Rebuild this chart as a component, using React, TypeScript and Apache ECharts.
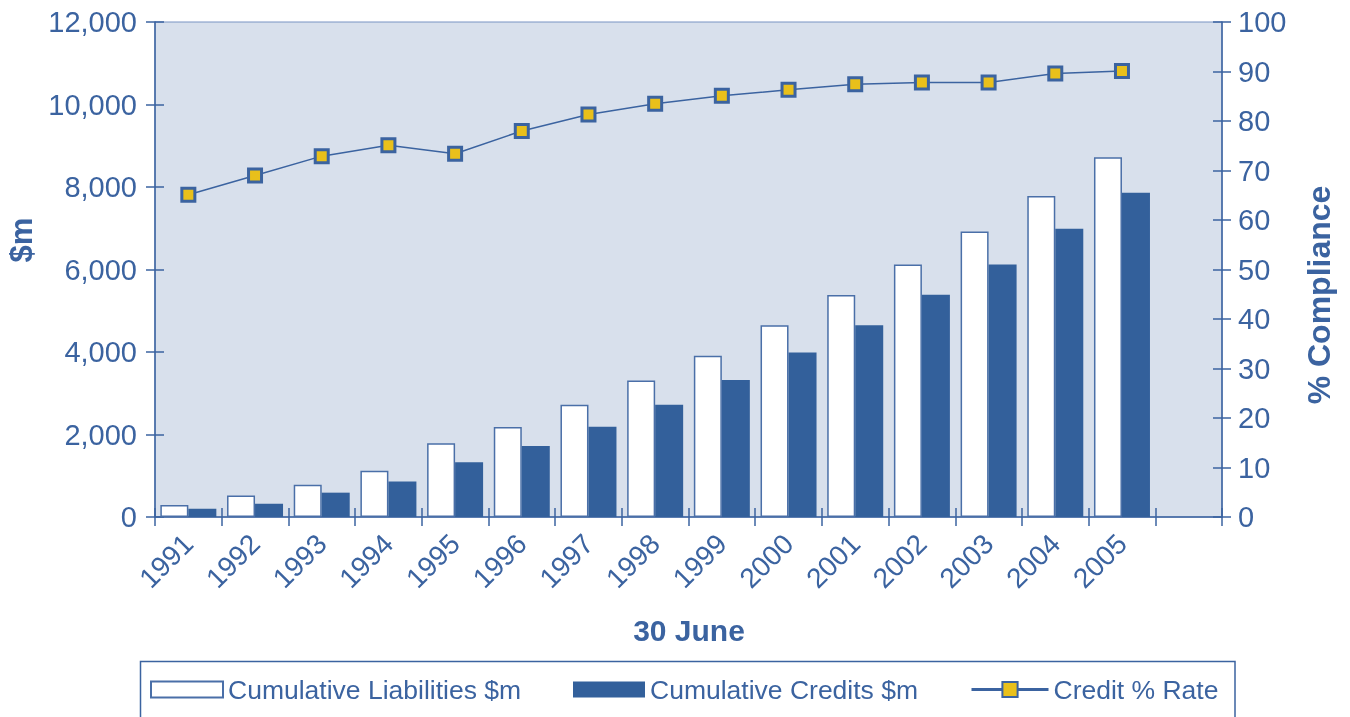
import React, { useEffect, useRef } from "react";
import * as echarts from "echarts";

// Year ending 30 June; one spare slot is left empty after the last year
const years = ["1991", "1992", "1993", "1994", "1995", "1996", "1997", "1998", "1999", "2000", "2001", "2002", "2003", "2004", "2005"];
const liabilities = [290, 520, 780, 1120, 1790, 2180, 2720, 3310, 3910, 4650, 5380, 6120, 6920, 7780, 8720];
const credits = [200, 320, 590, 860, 1330, 1720, 2190, 2720, 3320, 3990, 4650, 5390, 6120, 6990, 7860];
const creditRate = [65.1, 69.0, 72.9, 75.1, 73.4, 78.0, 81.3, 83.5, 85.1, 86.3, 87.4, 87.8, 87.8, 89.6, 90.1];

const seriesNames = ["Cumulative Liabilities $m", "Cumulative Credits $m", "Credit % Rate"];

const BLUE = "#3b63a0";
const DARK_BAR = "#33609b";
const YELLOW = "#e9c01b";
const PLOT_BG = "#d8e0ec";
const FONT = "Liberation Sans";

export default function App() {
  const ref = useRef<HTMLDivElement>(null);

  useEffect(() => {
    if (!ref.current) return;
    const chart = echarts.init(ref.current, undefined, { renderer: "svg" });
    const categories = [...years, ""];

    const tickStyle = { color: BLUE, width: 1.5 };

    const valueAxisBase = {
      type: "value" as const,
      splitLine: { show: false },
      axisLine: { show: true, lineStyle: { color: BLUE, width: 1.5 } },
    };

    const legendBase = {
      top: 676,
      padding: 0,
      itemHeight: 16,
      itemWidth: 72,
      selectedMode: false,
      textStyle: { color: BLUE, fontSize: 26.5, fontFamily: FONT },
    };

    chart.setOption({
      animation: false,
      textStyle: { fontFamily: FONT },
      grid: {
        left: 155,
        right: 128,
        top: 22,
        bottom: 200,
        show: true,
        backgroundColor: PLOT_BG,
        borderColor: "#7993c2",
        borderWidth: 1,
      },
      // Each side has a second, label-less axis so the ticks cross the axis line
      xAxis: [
        {
          type: "category",
          data: categories,
          position: "bottom",
          boundaryGap: true,
          axisLine: { show: true, lineStyle: { color: BLUE, width: 1.5 } },
          axisTick: { show: true, inside: false, length: 9, interval: 0, lineStyle: tickStyle },
          axisLabel: {
            interval: 0,
            rotate: 45,
            margin: 22,
            color: BLUE,
            fontSize: 28,
            fontFamily: FONT,
          },
        },
        {
          type: "category",
          data: categories,
          position: "bottom",
          boundaryGap: true,
          axisLine: { show: false },
          axisTick: { show: true, inside: true, length: 9, interval: 0, lineStyle: tickStyle },
          axisLabel: { show: false },
        },
      ],
      yAxis: [
        {
          ...valueAxisBase,
          position: "left",
          min: 0,
          max: 12000,
          interval: 2000,
          axisTick: { show: true, inside: false, length: 9, lineStyle: tickStyle },
          axisLabel: {
            margin: 18,
            color: BLUE,
            fontSize: 29,
            fontFamily: FONT,
            formatter: (v: number) => v.toLocaleString("en-US"),
          },
        },
        {
          ...valueAxisBase,
          position: "left",
          min: 0,
          max: 12000,
          interval: 2000,
          axisLine: { show: false },
          axisTick: { show: true, inside: true, length: 9, lineStyle: tickStyle },
          axisLabel: { show: false },
        },
        {
          ...valueAxisBase,
          position: "right",
          min: 0,
          max: 100,
          interval: 10,
          axisTick: { show: true, inside: false, length: 9, lineStyle: tickStyle },
          axisLabel: { margin: 16, color: BLUE, fontSize: 29, fontFamily: FONT },
        },
        {
          ...valueAxisBase,
          position: "right",
          min: 0,
          max: 100,
          interval: 10,
          axisLine: { show: false },
          axisTick: { show: true, inside: true, length: 9, lineStyle: tickStyle },
          axisLabel: { show: false },
        },
      ],
      legend: [
        { ...legendBase, left: 150, data: [{ name: seriesNames[0], icon: "rect" }] },
        { ...legendBase, left: 573, data: [{ name: seriesNames[1], icon: "rect" }] },
        {
          ...legendBase,
          left: 970,
          itemWidth: 77,
          itemHeight: 19,
          data: [seriesNames[2]],
          lineStyle: { width: 3 },
        },
      ],
      graphic: [
        {
          type: "text",
          x: 21,
          y: 240,
          rotation: Math.PI / 2,
          style: {
            text: "$m",
            fill: BLUE,
            fontSize: 31,
            fontWeight: "bold",
            fontFamily: FONT,
            align: "center",
            verticalAlign: "middle",
          },
        },
        {
          type: "text",
          x: 1319,
          y: 295,
          rotation: Math.PI / 2,
          style: {
            text: "% Compliance",
            fill: BLUE,
            fontSize: 32,
            fontWeight: "bold",
            fontFamily: FONT,
            align: "center",
            verticalAlign: "middle",
          },
        },
        {
          type: "text",
          x: 689,
          y: 630,
          style: {
            text: "30 June",
            fill: BLUE,
            fontSize: 30,
            fontWeight: "bold",
            fontFamily: FONT,
            align: "center",
            verticalAlign: "middle",
          },
        },
        {
          // Legend frame; its lower edge runs past the bottom of the page
          type: "rect",
          shape: { x: 140.5, y: 661.5, width: 1094.5, height: 120 },
          style: { fill: "none", stroke: BLUE, lineWidth: 1.5 },
        },
      ],
      series: [
        {
          name: seriesNames[0],
          type: "bar",
          xAxisIndex: 0,
          yAxisIndex: 0,
          data: liabilities,
          barWidth: 28,
          barGap: "0%",
          itemStyle: { color: "#ffffff", borderColor: "#4a6fa8", borderWidth: 1.5 },
        },
        {
          name: seriesNames[1],
          type: "bar",
          xAxisIndex: 0,
          yAxisIndex: 0,
          data: credits,
          barWidth: 28,
          barGap: "0%",
          itemStyle: { color: DARK_BAR },
        },
        {
          name: seriesNames[2],
          type: "line",
          xAxisIndex: 0,
          yAxisIndex: 2,
          data: creditRate,
          symbol: "rect",
          symbolSize: 13,
          lineStyle: { color: BLUE, width: 1.5 },
          itemStyle: { color: YELLOW, borderColor: BLUE, borderWidth: 3 },
          z: 5,
        },
      ],
    });

    return () => chart.dispose();
  }, []);

  return (
    <div
      ref={ref}
      style={{ position: "fixed", left: 0, top: 0, width: 1350, height: 717 }}
    />
  );
}
